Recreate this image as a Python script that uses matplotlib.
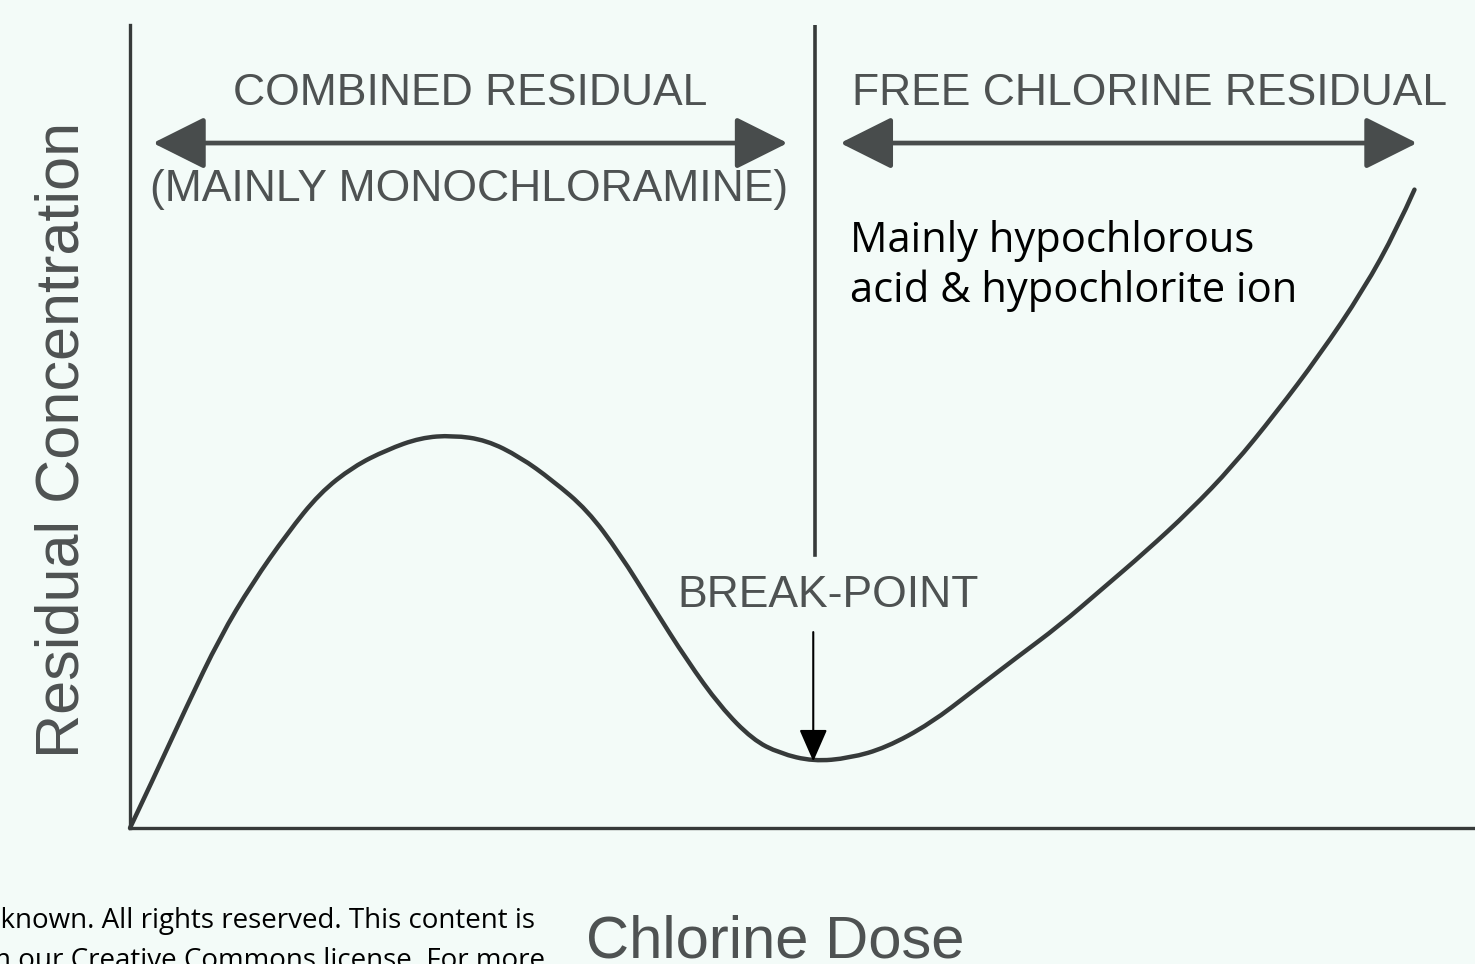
import matplotlib.pyplot as plt
from matplotlib.patches import FancyArrowPatch, PathPatch
from matplotlib.path import Path

# breakpoint chlorination curve (arbitrary units 0-100)
dose = [0.0, 1.7, 4.2, 6.7, 9.1, 11.7, 14.1, 16.6, 19.1, 21.6, 24.0, 26.5, 29.0,
        31.4, 34.0, 36.4, 38.9, 41.4, 43.9, 46.3, 48.3, 50.8, 53.5, 56.2, 59.5,
        62.7, 65.9, 69.1, 72.3, 75.5, 78.8, 82.0, 85.2, 88.4, 91.7, 94.2, 95.5]
residual = [0.0, 6.0, 15.1, 23.8, 30.5, 36.7, 41.7, 45.0, 47.1, 48.6, 48.9, 48.3, 46.2,
            43.3, 39.6, 34.2, 27.5, 20.9, 15.1, 11.0, 9.3, 8.3, 8.7, 10.0, 13.0,
            17.1, 21.2, 25.2, 29.8, 34.4, 39.5, 45.1, 51.7, 58.8, 67.0, 74.6, 79.5]

break_point = (50.8, 8.3)
divider_x = 50.9
divider_top = 34.0
combined_span = (1.5, 49.1)
free_span = (52.6, 95.9)
span_y = 85.3

bg = "#f3fbf8"
ink = "#363a3a"
grey_text = "#4e5252"
label_font = "Liberation Sans"

fig = plt.figure(figsize=(14.75, 9.64), dpi=100, facecolor=bg)
ax = fig.add_axes([130 / 1475, 136 / 964, 1345 / 1475, 803 / 964])
ax.set_facecolor(bg)
ax.set_xlim(0, 100)
ax.set_ylim(0, 100)
ax.set_xticks([])
ax.set_yticks([])
for side in ["top", "right"]:
    ax.spines[side].set_visible(False)
for side in ["left", "bottom"]:
    ax.spines[side].set_color(ink)
    ax.spines[side].set_linewidth(2.4)

# curve: smooth quadratic spline through the read points
pts = list(zip(dose, residual))
verts = [pts[0]]
codes = [Path.MOVETO]
for i in range(1, len(pts) - 1):
    if i < len(pts) - 2:
        end = ((pts[i][0] + pts[i + 1][0]) / 2, (pts[i][1] + pts[i + 1][1]) / 2)
    else:
        end = pts[-1]
    verts += [pts[i], end]
    codes += [Path.CURVE3, Path.CURVE3]
ax.add_patch(PathPatch(Path(verts, codes), facecolor="none", edgecolor=ink,
                       lw=3.2, capstyle="round", clip_on=False))

# divider between the two regions
ax.plot([divider_x, divider_x], [divider_top, 100], color=ink, lw=2.6)

# range arrows
for x0, x1 in [combined_span, free_span]:
    arr = FancyArrowPatch((x0, span_y), (x1, span_y),
                          arrowstyle="<|-|>,head_length=1.3,head_width=0.65",
                          mutation_scale=25, color="#484c4c", lw=3.4)
    ax.add_patch(arr)

ax.text(25.3, 91.5, "COMBINED RESIDUAL", ha="center", va="center",
        fontsize=32, color=grey_text, family=label_font)
ax.text(25.2, 79.5, "(MAINLY MONOCHLORAMINE)", ha="center", va="center",
        fontsize=32, color=grey_text, family=label_font)
ax.text(75.8, 91.5, "FREE CHLORINE RESIDUAL", ha="center", va="center",
        fontsize=32, color=grey_text, family=label_font)
ax.text(51.9, 29.0, "BREAK-POINT", ha="center", va="center",
        fontsize=32, color=grey_text, family=label_font)

ax.text(53.5, 71.7, "Mainly hypochlorous", ha="left", va="baseline",
        fontsize=30, color="black", family="Open Sans")
ax.text(53.5, 65.5, "acid & hypochlorite ion", ha="left", va="baseline",
        fontsize=30, color="black", family="Open Sans")

# break-point arrow
ax.annotate("", xy=break_point, xytext=(break_point[0], 24.4),
            arrowprops=dict(arrowstyle="-|>,head_length=0.8,head_width=0.35",
                            mutation_scale=25, color="black", lw=1.5,
                            shrinkA=0, shrinkB=0))

# axis labels
fig.text(63 / 1475, 1 - 440 / 964, "Residual Concentration", rotation=90,
         ha="center", va="center", fontsize=44, color=grey_text, family=label_font)
fig.text(775 / 1475, 1 - 957 / 964, "Chlorine Dose", ha="center", va="baseline",
         fontsize=43, color=grey_text, family=label_font)

# cut-off credit note
fig.text(535 / 1475, 1 - 928 / 964, "Source Unknown. All rights reserved. This content is",
         ha="right", va="baseline", fontsize=20, color="black", family="Open Sans")
fig.text(545 / 1475, 1 - 968 / 964, "excluded from our Creative Commons license. For more",
         ha="right", va="baseline", fontsize=20, color="black", family="Open Sans")

fig.savefig("out.png", dpi=100, facecolor=bg)
